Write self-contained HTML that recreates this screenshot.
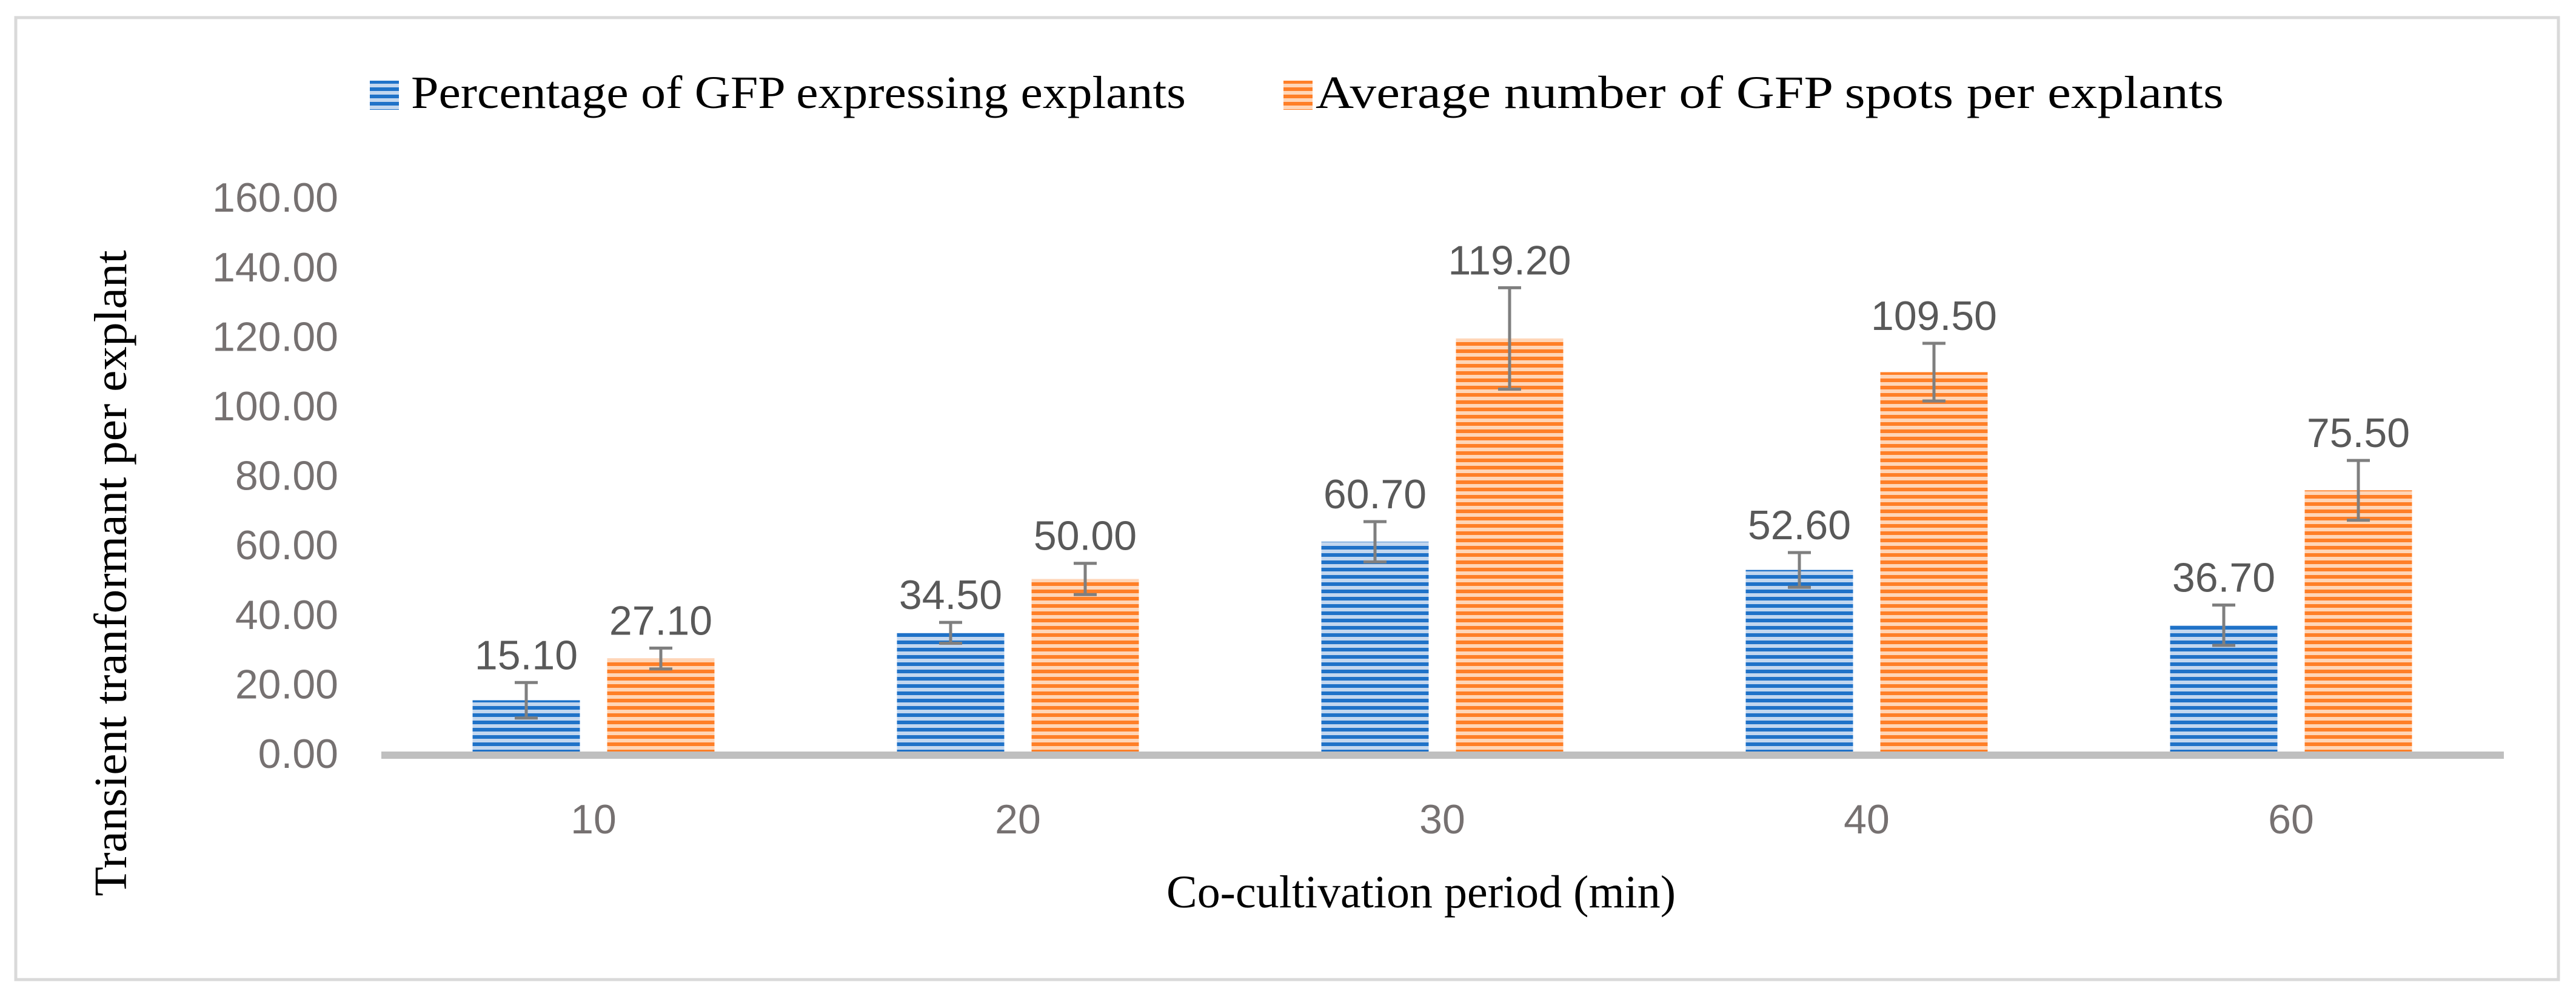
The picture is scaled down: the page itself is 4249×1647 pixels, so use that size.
<!DOCTYPE html>
<html><head><meta charset="utf-8"><style>
html,body{margin:0;padding:0;background:#fff;}
svg{display:block;}
</style></head><body>
<svg id="chart" width="4249" height="1647" viewBox="0 0 4249 1647" xmlns="http://www.w3.org/2000/svg">
<defs>
<pattern id="pBlue" patternUnits="userSpaceOnUse" width="12" height="12"><rect width="12" height="12" fill="#c3d7ef"/><rect y="0" width="12" height="6" fill="#1f72c8"/></pattern>
<pattern id="pOrange" patternUnits="userSpaceOnUse" width="12" height="12"><rect width="12" height="12" fill="#ffd6b8"/><rect y="0" width="12" height="6" fill="#ff7f27"/></pattern>
</defs>
<rect x="26" y="29" width="4194" height="1586" fill="#fff" stroke="#d9d9d9" stroke-width="5"/>
<g>
<rect x="610" y="133" width="48" height="48" fill="url(#pBlue)"/>
<text x="678" y="178" textLength="1278" lengthAdjust="spacingAndGlyphs" font-family="Liberation Serif, serif" font-size="76" fill="#000">Percentage of GFP expressing explants</text>
<rect x="2117" y="133" width="48" height="48" fill="url(#pOrange)"/>
<text x="2170" y="178" textLength="1498" lengthAdjust="spacingAndGlyphs" font-family="Liberation Serif, serif" font-size="76" fill="#000">Average number of GFP spots per explants</text>
</g>
<text transform="translate(208,945) rotate(-90)" text-anchor="middle" textLength="1065" lengthAdjust="spacingAndGlyphs" font-family="Liberation Serif, serif" font-size="76" fill="#000">Transient tranformant per explant</text>
<text x="2344" y="1496" text-anchor="middle" textLength="840" lengthAdjust="spacingAndGlyphs" font-family="Liberation Serif, serif" font-size="76" fill="#000">Co-cultivation period (min)</text>
<g id="yticks"></g>
<g id="bars"></g>
<rect x="629" y="1239" width="3501" height="12" fill="#bfbfbf"/>
<g id="xticks"></g>
</svg>
<script>
const categories = ["10","20","30","40","60"];
const percentValues = [15.10, 34.50, 60.70, 52.60, 36.70];
const percentErrors = [5.1, 3.0, 5.8, 5.0, 5.8];
const spotValues = [27.10, 50.00, 119.20, 109.50, 75.50];
const spotErrors = [3.0, 4.5, 14.6, 8.3, 8.6];
const yTicks = [0,20,40,60,80,100,120,140,160];

const NS = "http://www.w3.org/2000/svg";
const y0 = 1241, pxPerUnit = 5.73;
const xLeft = 629, catW = 700, barW = 177, barOff = 111;
function yScale(v){ return y0 - v*pxPerUnit; }
function xCenter(i){ return xLeft + catW*(i+0.5); }
function mk(tag, attrs, parent){ const e=document.createElementNS(NS,tag); for(const k in attrs) e.setAttribute(k,attrs[k]); parent.appendChild(e); return e; }

const yt = document.getElementById('yticks');
yTicks.forEach(t=>{
  const el = mk('text',{x:558,y:yScale(t)+25,'text-anchor':'end','font-family':'Liberation Sans, sans-serif','font-size':68,fill:'#767171'},yt);
  el.textContent = t.toFixed(2);
  
  
});
const xt = document.getElementById('xticks');
categories.forEach((c,i)=>{
  const el = mk('text',{x:xCenter(i),y:1374,'text-anchor':'middle','font-family':'Liberation Sans, sans-serif','font-size':68,fill:'#767171'},xt);
  el.textContent = c;
  
  
});
const bars = document.getElementById('bars');
function drawSeries(vals, errs, off, fill, name){
  vals.forEach((v,i)=>{
    const cx = xCenter(i)+off;
    const r = mk('rect',{x:cx-barW/2,y:yScale(v),width:barW,height:y0-yScale(v),fill:fill},bars);
    
    
    const e = errs[i], top = yScale(v+e), bot = yScale(v-e);
    const g = mk('g',{stroke:'#7f7f7f','stroke-width':5},bars);
    
    
    mk('line',{x1:cx,x2:cx,y1:top,y2:bot},g);
    mk('line',{x1:cx-19,x2:cx+19,y1:top,y2:top},g);
    mk('line',{x1:cx-19,x2:cx+19,y1:bot,y2:bot},g);
    const t = mk('text',{x:cx,y:top-22,'text-anchor':'middle','font-family':'Liberation Sans, sans-serif','font-size':68,fill:'#595959'},bars);
    t.textContent = v.toFixed(2);
    
    
  });
}
drawSeries(percentValues, percentErrors, -barOff, 'url(#pBlue)', 'percentage');
drawSeries(spotValues, spotErrors, barOff, 'url(#pOrange)', 'average-spots');
</script>
</body></html>
